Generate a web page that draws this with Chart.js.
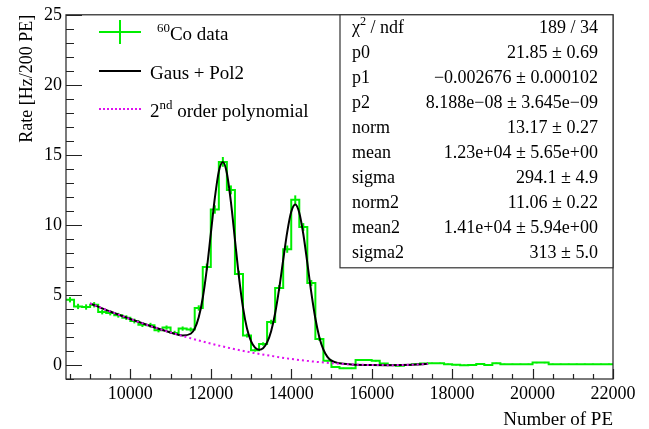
<!DOCTYPE html>
<html>
<head>
<meta charset="utf-8">
<script src="https://cdn.jsdelivr.net/npm/chart.js@4.4.0/dist/chart.umd.min.js"></script>
<style>
  html, body { margin: 0; padding: 0; background: #fff; }
  #wrap { width: 649px; height: 429px; }
</style>
</head>
<body>
<div id="wrap"><canvas id="myChart" width="649" height="429"></canvas></div>
<script>
// histogram bins (lower edge, PE) - 200 PE wide
const binLow = [8400, 8600, 8800, 9000, 9200, 9400, 9600, 9800, 10000, 10200, 10400, 10600, 10800, 11000,
  11200, 11400, 11600, 11800, 12000, 12200, 12400, 12600, 12800, 13000, 13200, 13400, 13600, 13800,
  14000, 14200, 14400, 14600, 14800, 15000, 15200, 15400, 15600, 15800, 16000, 16200, 16400, 16600,
  16800, 17000, 17200, 17400, 17600, 17800, 18000, 18200, 18400, 18600, 18800, 19000, 19200, 19400,
  19600, 19800, 20000, 20200, 20400, 20600, 20800, 21000, 21200, 21400, 21600, 21800];
const histEnd = 22000;

// 60Co data, rate per bin [Hz/200 PE]
const rates = [4.66, 4.18, 4.14, 4.30, 3.78, 3.71, 3.55, 3.38, 3.14, 2.88, 2.84, 2.48, 2.67, 2.29,
  2.60, 2.53, 4.07, 7.00, 11.10, 14.50, 12.50, 6.50, 2.10, 1.06, 1.50, 3.07, 5.50, 8.27,
  11.80, 9.85, 5.85, 1.85, 0.30, -0.15, -0.24, -0.24, 0.35, 0.35, 0.30, 0.10, 0.00, -0.05,
  0.00, 0.05, 0.10, 0.12, 0.12, 0.05, 0.02, -0.02, 0.00, 0.07, 0.00, 0.12, 0.05, 0.05,
  0.05, 0.05, 0.17, 0.17, 0.05, 0.05, 0.05, 0.05, 0.05, 0.05, 0.05, 0.05];
const rateErr = [0.19, 0.19, 0.19, 0.19, 0.17, 0.17, 0.17, 0.17, 0.17, 0.17, 0.17, 0.15, 0.15, 0.15,
  0.15, 0.15, 0.19, 0.24, 0.30, 0.35, 0.32, 0.23, 0.14, 0.10, 0.12, 0.16, 0.21, 0.26,
  0.31, 0.28, 0.22, 0.13, 0.06, 0.05, 0.05, 0.05, 0.06, 0.06, 0.06, 0.05, 0.05, 0.05,
  0.05, 0.05, 0.05, 0.05, 0.05, 0.05, 0.05, 0.05, 0.05, 0.05, 0.05, 0.05, 0.05, 0.05,
  0.05, 0.05, 0.05, 0.05, 0.05, 0.05, 0.05, 0.05, 0.05, 0.05, 0.05, 0.05];

// Gaus + Pol2 fit curve
const fitX = [9000, 9500, 10000, 10500, 11000, 11300, 11500, 11600, 11700, 11800, 11900, 12000, 12100,
  12200, 12300, 12400, 12500, 12600, 12700, 12800, 12900, 13000, 13100, 13200, 13300, 13400, 13500,
  13600, 13700, 13800, 13900, 14000, 14100, 14200, 14300, 14400, 14500, 14600, 14700, 14800, 14900,
  15000, 15200, 15500, 16000, 16500, 17000, 17400];
const fitY = [4.40, 3.82, 3.28, 2.78, 2.32, 2.11, 2.23, 2.60, 3.40, 4.78, 6.82, 9.36, 11.91,
  13.82, 14.49, 13.69, 11.64, 8.96, 6.29, 4.11, 2.60, 1.70, 1.24, 1.09, 1.20, 1.61, 2.41,
  3.69, 5.45, 7.50, 9.49, 10.94, 11.46, 10.87, 9.35, 7.29, 5.15, 3.32, 1.97, 1.09, 0.58,
  0.31, 0.12, 0.04, 0.00, -0.01, 0.02, 0.08];

// 2nd order polynomial background
const polyX = [9000, 9500, 10000, 10500, 11000, 11500, 12000, 12500, 13000, 13500, 14000, 14500,
  15000, 15500, 16000, 16500, 17000, 17400];
const polyY = [4.40, 3.82, 3.28, 2.78, 2.32, 1.91, 1.53, 1.19, 0.90, 0.65, 0.43, 0.26,
  0.13, 0.04, 0.00, -0.01, 0.02, 0.08];

const xTickLabels = [10000, 12000, 14000, 16000, 18000, 20000, 22000];
const yTickLabels = [0, 5, 10, 15, 20, 25];

const statsRows = [
  ['χ|2| / ndf', '189 / 34'],
  ['p0', '21.85 ± 0.69'],
  ['p1', '−0.002676 ± 0.000102'],
  ['p2', '8.188e−08 ± 3.645e−09'],
  ['norm', '13.17 ± 0.27'],
  ['mean', '1.23e+04 ± 5.65e+00'],
  ['sigma', '294.1 ± 4.9'],
  ['norm2', '11.06 ± 0.22'],
  ['mean2', '1.41e+04 ± 5.94e+00'],
  ['sigma2', '313 ± 5.0']
];

const SERIF = '"Liberation Serif", "Times New Roman", serif';
const GREEN = '#00ee00';
const MAGENTA = '#e010f0';

const histPoints = binLow.map((x, i) => ({ x: x, y: rates[i] }));
histPoints.push({ x: histEnd, y: rates[rates.length - 1] });

// draws text with |sup| parts raised, returns end x
function richText(ctx, str, x, y, size) {
  const parts = str.split('|');
  let cx = x;
  parts.forEach((p, i) => {
    if (!p) return;
    const sup = i % 2 === 1;
    ctx.font = (sup ? size * 0.68 : size) + 'px ' + SERIF;
    ctx.fillText(p, cx, sup ? y - size * 0.42 : y);
    cx += ctx.measureText(p).width;
  });
  return cx;
}

const rootStyle = {
  id: 'rootStyle',
  beforeDatasetsDraw(chart) {
    const ctx = chart.ctx;
    const xs = chart.scales.x, ys = chart.scales.y;
    ctx.save();
    ctx.strokeStyle = GREEN;
    ctx.lineWidth = 2;
    binLow.forEach((x, i) => {
      const cx = xs.getPixelForValue(x + 100);
      ctx.beginPath();
      ctx.moveTo(cx, ys.getPixelForValue(rates[i] - rateErr[i]));
      ctx.lineTo(cx, ys.getPixelForValue(rates[i] + rateErr[i]));
      ctx.stroke();
    });
    ctx.restore();
  },
  afterDraw(chart) {
    const ctx = chart.ctx;
    const a = chart.chartArea;
    const xs = chart.scales.x, ys = chart.scales.y;
    ctx.save();

    // frame
    ctx.strokeStyle = '#222';
    ctx.lineWidth = 1.2;
    ctx.strokeRect(a.left, a.top, a.right - a.left, a.bottom - a.top);

    // ticks inside the frame
    ctx.beginPath();
    for (let v = 8500; v <= 22000; v += 500) {
      const px = Math.round(xs.getPixelForValue(v)) + 0.5;
      const len = v % 2000 === 0 ? 10 : 5;
      ctx.moveTo(px, a.bottom);
      ctx.lineTo(px, a.bottom - len);
    }
    for (let v = -1; v <= 25; v++) {
      const py = Math.round(ys.getPixelForValue(v)) + 0.5;
      const len = v % 5 === 0 ? 16 : 8;
      ctx.moveTo(a.left, py);
      ctx.lineTo(a.left + len, py);
    }
    ctx.stroke();

    // axis titles
    ctx.fillStyle = '#000';
    ctx.font = '19px ' + SERIF;
    ctx.textAlign = 'right';
    ctx.textBaseline = 'alphabetic';
    ctx.fillText('Number of PE', a.right, 425);
    ctx.save();
    ctx.translate(32, a.top);
    ctx.rotate(-Math.PI / 2);
    ctx.font = '18px ' + SERIF;
    ctx.fillText('Rate [Hz/200 PE]', 0, 0);
    ctx.restore();

    // legend
    ctx.textAlign = 'left';
    ctx.strokeStyle = GREEN;
    ctx.lineWidth = 2;
    ctx.beginPath();
    ctx.moveTo(99, 32); ctx.lineTo(141, 32);
    ctx.moveTo(120, 20); ctx.lineTo(120, 44);
    ctx.stroke();
    richText(ctx, '|60|Co data', 157, 40, 19);

    ctx.strokeStyle = '#000';
    ctx.beginPath();
    ctx.moveTo(99, 71); ctx.lineTo(141, 71);
    ctx.stroke();
    richText(ctx, 'Gaus + Pol2', 150, 79, 19);

    ctx.strokeStyle = MAGENTA;
    ctx.setLineDash([2, 2]);
    ctx.beginPath();
    ctx.moveTo(99, 109); ctx.lineTo(141, 109);
    ctx.stroke();
    ctx.setLineDash([]);
    richText(ctx, '2|nd| order polynomial', 150, 117, 19);

    // stats box
    const bx = 340, by = a.top, bw = a.right - 340, bh = 253;
    ctx.fillStyle = '#fff';
    ctx.fillRect(bx, by, bw, bh);
    ctx.strokeStyle = '#333';
    ctx.lineWidth = 1.2;
    ctx.strokeRect(bx, by, bw, bh);
    ctx.fillStyle = '#000';
    statsRows.forEach((r, i) => {
      const y = 33 + i * 25;
      ctx.textAlign = 'left';
      richText(ctx, r[0], 352, y, 18);
      ctx.textAlign = 'right';
      ctx.font = '18px ' + SERIF;
      ctx.fillText(r[1], 598, y);
    });

    ctx.restore();
  }
};

new Chart(document.getElementById('myChart'), {
  type: 'line',
  data: {
    datasets: [
      {
        label: '60Co data',
        data: histPoints,
        stepped: true,
        borderColor: GREEN,
        borderWidth: 2,
        pointRadius: 0,
        fill: false,
        order: 3
      },
      {
        label: 'Gaus + Pol2',
        data: fitX.map((x, i) => ({ x: x, y: fitY[i] })),
        borderColor: '#000',
        borderWidth: 2,
        pointRadius: 0,
        cubicInterpolationMode: 'monotone',
        fill: false,
        order: 2
      },
      {
        label: '2nd order polynomial',
        data: polyX.map((x, i) => ({ x: x, y: polyY[i] })),
        borderColor: MAGENTA,
        borderWidth: 2,
        borderDash: [2, 3],
        pointRadius: 0,
        cubicInterpolationMode: 'monotone',
        fill: false,
        order: 1
      }
    ]
  },
  options: {
    responsive: false,
    animation: false,
    layout: { padding: { top: 12, right: 36, left: 0, bottom: 0 } },
    plugins: {
      legend: { display: false },
      tooltip: { enabled: false }
    },
    scales: {
      x: {
        type: 'linear',
        min: 8400,
        max: 22000,
        grid: { display: false, drawTicks: false },
        border: { display: false },
        afterBuildTicks: (s) => { s.ticks = xTickLabels.map(v => ({ value: v })); },
        afterFit: (s) => { s.height = 50; },
        ticks: {
          color: '#000',
          padding: 4,
          maxRotation: 0,
          autoSkip: false,
          font: { family: SERIF, size: 18 },
          callback: (v) => String(v)
        }
      },
      y: {
        min: -1,
        max: 25,
        grid: { display: false, drawTicks: false },
        border: { display: false },
        afterBuildTicks: (s) => { s.ticks = yTickLabels.map(v => ({ value: v })); },
        afterFit: (s) => { s.width = 66; },
        ticks: {
          color: '#000',
          padding: 4,
          autoSkip: false,
          font: { family: SERIF, size: 18 },
          callback: (v) => String(v)
        }
      }
    }
  },
  plugins: [rootStyle]
});
</script>
</body>
</html>
